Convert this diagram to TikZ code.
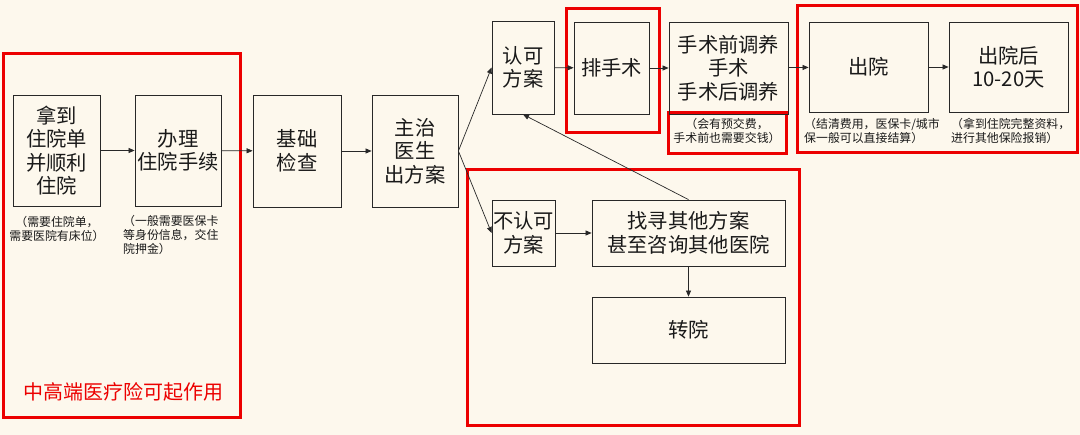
\documentclass[tikz,border=0pt]{standalone}
\usepackage{fontspec}
\setmainfont{Noto Sans CJK SC}
\usetikzlibrary{arrows.meta}
\definecolor{bg}{RGB}{253,248,237}
\definecolor{hl}{RGB}{236,0,0}
\definecolor{ln}{RGB}{40,40,40}
\definecolor{tx}{RGB}{25,25,25}
\begin{document}
\begin{tikzpicture}[x=1pt,y=-1pt,
  box/.style={draw=ln,line width=0.8pt,inner sep=0pt,align=center,text=tx,
    font=\fontsize{20.3}{23.5}\selectfont},
  note/.style={inner sep=0pt,text=tx,font=\fontsize{11.9}{14}\selectfont},
  frame/.style={draw=hl,line width=3pt},
  arr/.style={draw=ln,line width=0.7pt,-{Triangle[length=6pt,width=5pt]}}]
\fill[bg] (0,0) rectangle (1080,435);
\useasboundingbox (0,0) rectangle (1080,435);

% red frames
\draw[frame] (3,54) rectangle (240,418);
\draw[frame] (566,9) rectangle (659,133);
\draw[frame] (668,113) rectangle (786,154);
\draw[frame] (797,6) rectangle (1077,153);
\draw[frame] (467,170) rectangle (799,426);

% boxes
\node[box,minimum width=87pt,minimum height=111pt] (b1) at (56.5,150.5) {拿到\\住院单\\并顺利\\住院};
\node[box,minimum width=86pt,minimum height=111pt] (b2) at (178,150.5) {办理\\住院手续};
\node[box,minimum width=88pt,minimum height=112pt] (b3) at (297,151) {基础\\检查};
\node[box,minimum width=86pt,minimum height=112pt] (b4) at (415,151) {主治\\医生\\出方案};
\node[box,minimum width=62pt,minimum height=93pt] (b5) at (523,67.5) {认可\\方案};
\node[box,minimum width=75pt,minimum height=92pt] (b6) at (611.5,68) {排手术};
\node[box,minimum width=119pt,minimum height=92pt] (b7) at (728.5,68) {手术前调养\\手术\\手术后调养};
\node[box,minimum width=119pt,minimum height=90pt] (b8) at (868.5,67) {出院};
\node[box,minimum width=119pt,minimum height=90pt] (b9) at (1008.5,67) {出院后\\10-20天};
\node[box,minimum width=63pt,minimum height=66pt] (b10) at (523.5,233) {不认可\\方案};
\node[box,minimum width=193pt,minimum height=66pt] (b11) at (688.5,233) {找寻其他方案\\甚至咨询其他医院};
\node[box,minimum width=193pt,minimum height=66pt] (b12) at (688.5,330) {转院};

% notes
\node[note,align=center] (n1) at (57,229) {（需要住院单，\\需要医院有床位）};
\node[note,align=left,anchor=north west] (n2) at (123,215) {（一般需要医保卡\\等身份信息，交住\\院押金）};
\node[note,align=center] (n3) at (727,131) {（会有预交费，\\手术前也需要交钱）};
\node[note,align=left,anchor=north west] (n4) at (804,118) {（结清费用，医保卡/城市\\保一般可以直接结算）};
\node[note,align=left,anchor=north west] (n5) at (951,118) {（拿到住院完整资料，\\进行其他保险报销）};

\node[inner sep=0pt,text=hl,font=\fontsize{20}{24}\selectfont] (lab) at (123.5,392) {中高端医疗险可起作用};

% connectors
\draw[arr] (b1) -- (b2);
\draw[arr] (b2) -- (b3);
\draw[arr] (b3) -- (b4);
\draw[arr] (b4.east) -- (b5.west);
\draw[arr] (b4.east) -- (b10.west);
\draw[arr] (b5) -- (b6);
\draw[arr] (b6) -- (b7);
\draw[arr] (b7) -- (b8);
\draw[arr] (b8) -- (b9);
\draw[arr] (b10) -- (b11);
\draw[arr] (b11) -- (b12);
\draw[arr] (b11.north) -- (b5.south);
\end{tikzpicture}
\end{document}
